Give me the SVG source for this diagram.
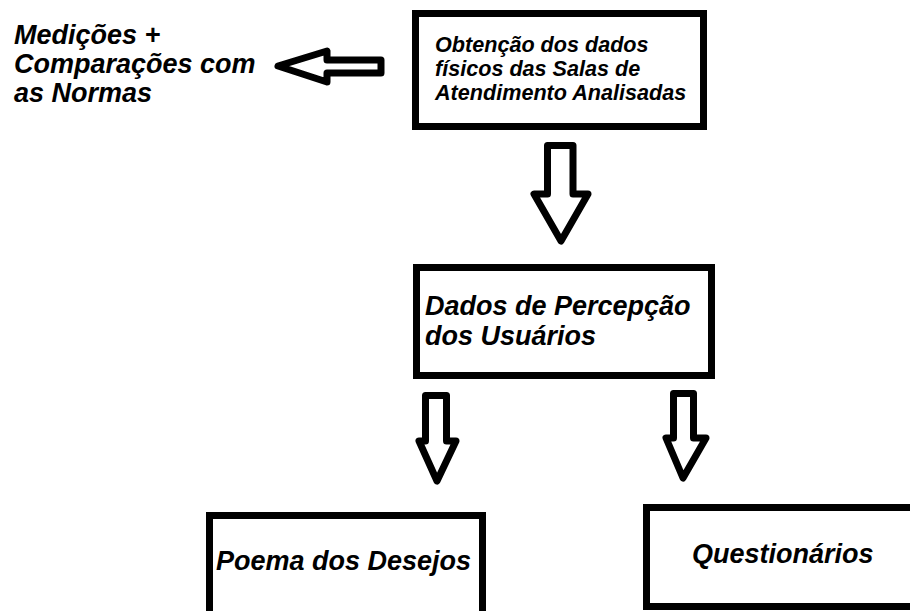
<svg xmlns="http://www.w3.org/2000/svg" width="910" height="611" viewBox="0 0 910 611">
<style>
.box{fill:#fff;stroke:#000;stroke-width:7}
.arr{fill:#fff;stroke:#000;stroke-width:7;stroke-linejoin:round}
.t{font-family:"Liberation Sans",Arial,sans-serif;font-weight:bold;font-style:italic;fill:#000}
.s27{font-size:27px}
.s21{font-size:21.6px}
</style>
<rect width="910" height="611" fill="#fff"/>
<g id="connectors">
<path class="arr" d="M278,66 L327,51 V60 H381 V73 H327 V82 Z" stroke-width="6.5"/>
<path class="arr" d="M547.5,145.5 H573 V194 H588 L561,241 L534,194 H547.5 Z"/>
<path class="arr" d="M425.5,395.5 H446.5 V441 H456 L437,481 L419,441 H425.5 Z"/>
<path class="arr" d="M673.5,393.5 H693.5 V438 H706 L683,478 L666,438 H673.5 Z"/>
</g>
<g id="medicoes">
<text class="t s27" x="14" y="44">Medições +</text>
<text class="t s27" x="14" y="73">Comparações com</text>
<text class="t s27" x="14" y="102">as Normas</text>
</g>
<g id="obtencao">
<rect class="box" x="415.5" y="13.5" width="288" height="113"/>
<text class="t s21" x="435" y="52">Obtenção dos dados</text>
<text class="t s21" x="435" y="76">físicos das Salas de</text>
<text class="t s21" x="435" y="100">Atendimento Analisadas</text>
</g>
<g id="percepcao">
<rect class="box" x="416.5" y="267.5" width="295" height="108"/>
<text class="t s27" x="425" y="315">Dados de Percepção</text>
<text class="t s27" x="425" y="345">dos Usuários</text>
</g>
<g id="poema">
<rect class="box" x="209.5" y="515.5" width="273" height="110"/>
<text class="t s27" x="216" y="570">Poema dos Desejos</text>
</g>
<g id="questionarios">
<rect class="box" x="646.5" y="507.5" width="280" height="99"/>
<text class="t s27" x="692" y="563">Questionários</text>
</g>
</svg>
